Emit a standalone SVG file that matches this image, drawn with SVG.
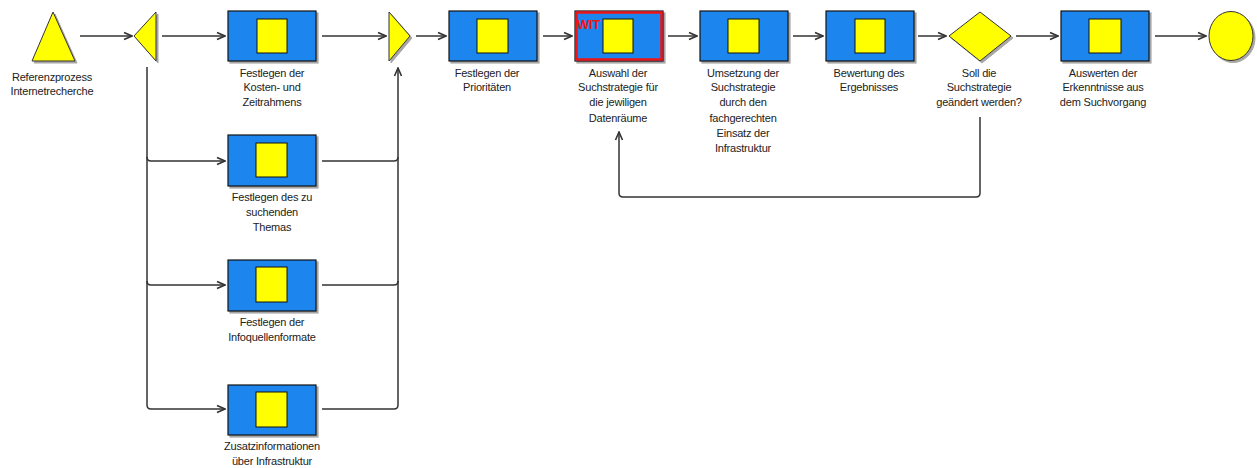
<svg xmlns="http://www.w3.org/2000/svg" width="1257" height="468" viewBox="0 0 1257 468">
  <defs>
    <marker id="arrow" viewBox="0 0 10 10" refX="9" refY="5" markerWidth="10" markerHeight="10" markerUnits="userSpaceOnUse" orient="auto">
      <path d="M1,1.5 L9,5 L1,8.5" fill="none" stroke="#333" stroke-width="1.6"/>
    </marker>
    <filter id="shadow" x="-10%" y="-10%" width="130%" height="130%">
      <feDropShadow dx="2" dy="2" stdDeviation="0.6" flood-color="#000" flood-opacity="0.35"/>
    </filter>
  </defs>
  <style>
    .fn { fill: #1f86ee; stroke: #111; stroke-width: 1.2; filter: url(#shadow); }
    .sq { fill: #ffff00; stroke: #111; stroke-width: 1; }
    .ev { fill: #ffff00; stroke: #333; stroke-width: 1; filter: url(#shadow); }
    .lbl { font-family: "Liberation Sans", Arial, sans-serif; font-size: 11px; letter-spacing: -0.2px; fill: #222; text-anchor: middle; }
    .con { fill: none; stroke: #333; stroke-width: 1.5; marker-end: url(#arrow); }
    .ln { fill: none; stroke: #333; stroke-width: 1.5; }
    .wit { font-family: "Liberation Sans", Arial, sans-serif; font-size: 13px; font-weight: bold; letter-spacing: -0.3px; fill: #f01414; }
  </style>

  <rect width="1257" height="468" fill="#ffffff"/>

  <!-- connectors -->
  <g id="connectors">
    <path class="con" d="M80,36 H132"/>
    <path class="con" d="M162,36 H225"/>
    <path class="con" d="M322,36 H386"/>
    <path class="con" d="M416,36 H446"/>
    <path class="con" d="M543,36 H572"/>
    <path class="con" d="M668,36 H697"/>
    <path class="con" d="M793,36 H823"/>
    <path class="con" d="M918,36 H946"/>
    <path class="con" d="M1016,36 H1058"/>
    <path class="con" d="M1155,36 H1206"/>
    <!-- branch from split -->
    <path class="ln" d="M147,67 V405 Q147,409 151,409"/>
    <path class="con" d="M147,157 Q147,161 151,161 H225"/>
    <path class="con" d="M147,281 Q147,285 151,285 H225"/>
    <path class="con" d="M151,409 H225"/>
    <!-- merge into join -->
    <path class="ln" d="M322,161 H394 Q398,161 398,157"/>
    <path class="ln" d="M322,285 H394 Q398,285 398,281"/>
    <path class="con" d="M322,409 H394 Q398,409 398,405 V68"/>
    <!-- loop back -->
    <path class="con" d="M980,117 V193 Q980,197 976,197 H623 Q619,197 619,193 V132"/>
  </g>

  <!-- start event -->
  <g id="start">
    <polygon class="ev" points="53,12 75,61 32,61"/>
    <text class="lbl" x="52" y="81">Referenzprozess</text>
    <text class="lbl" x="52" y="95">Internetrecherche</text>
  </g>

  <!-- split connector -->
  <g id="split">
    <polygon class="ev" points="134,36 156,12 156,61"/>
  </g>

  <g id="f1">
    <rect class="fn" x="228" y="11" width="88" height="50"/>
    <rect class="sq" x="257" y="19" width="30" height="34"/>
    <text class="lbl" x="272" y="77">Festlegen der</text>
    <text class="lbl" x="272" y="91">Kosten- und</text>
    <text class="lbl" x="272" y="106">Zeitrahmens</text>
  </g>

  <g id="f2">
    <rect class="fn" x="228" y="135" width="88" height="51"/>
    <rect class="sq" x="256" y="143" width="31" height="34"/>
    <text class="lbl" x="272" y="201">Festlegen des zu</text>
    <text class="lbl" x="272" y="216">suchenden</text>
    <text class="lbl" x="272" y="231">Themas</text>
  </g>

  <g id="f3">
    <rect class="fn" x="228" y="260" width="88" height="51"/>
    <rect class="sq" x="256" y="267" width="31" height="35"/>
    <text class="lbl" x="272" y="326">Festlegen der</text>
    <text class="lbl" x="272" y="341">Infoquellenformate</text>
  </g>

  <g id="f4">
    <rect class="fn" x="228" y="385" width="88" height="50"/>
    <rect class="sq" x="256" y="392" width="31" height="35"/>
    <text class="lbl" x="272" y="450">Zusatzinformationen</text>
    <text class="lbl" x="272" y="465">über Infrastruktur</text>
  </g>

  <!-- join connector -->
  <g id="join">
    <polygon class="ev" points="389,12 410,36 389,61"/>
  </g>

  <g id="f5">
    <rect class="fn" x="449" y="11" width="88" height="50"/>
    <rect class="sq" x="477" y="19" width="31" height="34"/>
    <text class="lbl" x="487" y="77">Festlegen der</text>
    <text class="lbl" x="487" y="91">Prioritäten</text>
  </g>

  <g id="f6">
    <rect class="fn" x="575" y="11" width="88" height="50"/>
    <rect x="576.5" y="12.5" width="85" height="47" fill="none" stroke="#f01414" stroke-width="2.5"/>
    <rect class="sq" x="603" y="19" width="30" height="34"/>
    <text class="wit" x="577" y="29">WIT</text>
    <text class="lbl" x="618" y="77">Auswahl der</text>
    <text class="lbl" x="618" y="91">Suchstrategie für</text>
    <text class="lbl" x="618" y="106">die jewiligen</text>
    <text class="lbl" x="618" y="122">Datenräume</text>
  </g>

  <g id="f7">
    <rect class="fn" x="700" y="11" width="88" height="50"/>
    <rect class="sq" x="728" y="19" width="31" height="34"/>
    <text class="lbl" x="743" y="77">Umsetzung der</text>
    <text class="lbl" x="743" y="91">Suchstrategie</text>
    <text class="lbl" x="743" y="106">durch den</text>
    <text class="lbl" x="743" y="122">fachgerechten</text>
    <text class="lbl" x="743" y="137">Einsatz der</text>
    <text class="lbl" x="743" y="152">Infrastruktur</text>
  </g>

  <g id="f8">
    <rect class="fn" x="826" y="11" width="88" height="50"/>
    <rect class="sq" x="855" y="19" width="30" height="34"/>
    <text class="lbl" x="869" y="77">Bewertung des</text>
    <text class="lbl" x="869" y="91">Ergebnisses</text>
  </g>

  <g id="decision">
    <polygon class="ev" points="980,12 1011,36 980,61 949,36"/>
    <text class="lbl" x="979" y="77">Soll die</text>
    <text class="lbl" x="979" y="91">Suchstrategie</text>
    <text class="lbl" x="979" y="106">geändert werden?</text>
  </g>

  <g id="f9">
    <rect class="fn" x="1061" y="11" width="88" height="50"/>
    <rect class="sq" x="1089" y="19" width="32" height="34"/>
    <text class="lbl" x="1103" y="77">Auswerten der</text>
    <text class="lbl" x="1103" y="91">Erkenntnisse aus</text>
    <text class="lbl" x="1103" y="106">dem Suchvorgang</text>
  </g>

  <g id="end">
    <ellipse class="ev" cx="1231" cy="36" rx="22" ry="24.5"/>
  </g>
</svg>
